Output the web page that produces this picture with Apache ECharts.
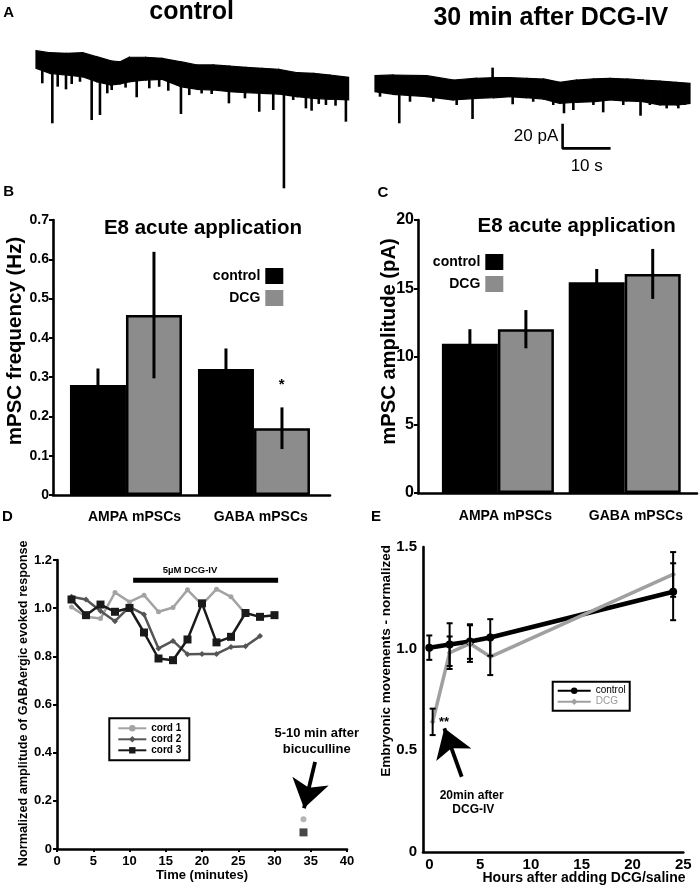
<!DOCTYPE html>
<html><head><meta charset="utf-8">
<script src="https://cdn.jsdelivr.net/npm/echarts@6/dist/echarts.min.js"></script>
<style>html,body{margin:0;padding:0;background:#fff}#c{width:700px;height:894px}</style>
</head><body><div id="c"></div>
<script>
// ---------- Panel A: current traces (time in s, current in pA) ----------
const controlTraceTime  = [0,3,6.5,10,13,16,18,20,23.5,27,31,34.5,38,41.5,45,48.5,52,56,59.5,63,67];
const controlTraceUpper = [5.1,3.4,2.9,3.4,0.0,-3.5,-4.3,-0.5,-0.5,-1.4,-4.3,-7.1,-7.1,-8.0,-9.1,-10.0,-10.8,-13.7,-14.3,-15.7,-17.7];
const controlTraceLower = [-10.0,-14.3,-15.7,-17.2,-21.5,-24.3,-23.4,-21.5,-20.0,-19.4,-25.7,-28.0,-28.6,-30.0,-30.9,-31.4,-32.0,-34.3,-35.7,-36.5,-37.1];
const controlEventTime  = [1.35,3.5,4.65,6.43,7.65,9.43,11.93,13.71,15.28,16.22,19.2,21.58,24.28,26.4,28.35,31.07,32.85,35.5,37.65,41.35,44.78,47.85,50.85,53.14,55.13,57.85,59.07,60.6,62.14,64.2,66.42];
const controlEventBase  = [-12,-13,-14,-15,-15,-16,-18,-20,-22,-22,-20,-19,-18,-18,-18,-24,-25,-26,-26,-28,-29,-30,-30,-31,-32,-33,-33,-34,-34,-35,-35];
const controlEventPeak  = [-22.8,-57.1,-25.7,-28.0,-23.4,-21.5,-54.3,-50.0,-31.4,-28.6,-26.5,-34.8,-27.1,-25.8,-29.2,-49.1,-32.9,-31.5,-32.0,-40.0,-35.7,-47.2,-45.7,-112.8,-37.1,-44.3,-46.3,-40.5,-41.4,-42.0,-55.7];

const dcgTraceTime  = [0,3.9,11.1,16.8,21.8,25.4,28.9,32.5,36.1,39.6,43.2,46.8,50.4,53.9,57.5,61.1,64.6,67.5];
const dcgTraceUpper = [-16.3,-15.7,-16.3,-20.0,-18.5,-18.0,-18.0,-18.5,-19.1,-22.0,-20.0,-19.1,-18.5,-19.1,-20.0,-20.9,-22.0,-22.8];
const dcgTraceLower = [-30.0,-32.3,-34.3,-37.1,-35.7,-35.2,-34.3,-35.2,-36.3,-40.0,-39.1,-38.6,-37.1,-38.0,-38.6,-41.4,-41.4,-40.0];
const dcgEventTime  = [1.07,5.2,7.5,12.5,17.5,20.9,25.2,29.5,33.9,38.2,40.5,42.5,46.8,48.9,53.2,56.9,58.9,62.5,65.0,66.4];
const dcgEventBase  = [-28,-30,-30,-32,-34,-33,-20,-32,-33,-34,-36,-36,-36,-36,-35,-36,-36,-38,-38,-38];
const dcgEventPeak  = [-34.3,-57.1,-38.6,-38.6,-41.4,-53.4,-9.4,-40.8,-38.6,-41.4,-48.5,-45.7,-41.4,-47.7,-41.4,-50.6,-41.4,-44.3,-44.3,-41.4];

const scaleBarTime = [40.2, 40.2, 50.2];   // 10 s
const scaleBarCurr = [-58.6, -78.6, -78.6]; // 20 pA

// ---------- Panels B & C: bars ----------
const barCategories = ['AMPA mPSCs', 'GABA mPSCs'];
const barPositions  = [1, 2];
const freqControl    = [0.28, 0.321];
const freqControlSem = [0.042, 0.052];
const freqDCG        = [0.458, 0.170];
const freqDCGSem     = [0.161, 0.053];
const ampControl     = [10.93, 15.44];
const ampControlSem  = [1.07, 0.97];
const ampDCG         = [12.0, 16.05];
const ampDCGSem      = [1.4, 1.83];

// ---------- Panel D ----------
const cord1Time = [2,4,6,8,10,12,14,16,18,20,22,24,26];
const cord1Amp  = [1.005,0.964,0.957,1.065,1.026,1.054,0.985,1.003,1.076,1.015,1.079,1.047,0.977];
const cord2Time = [2,4,6,8,10,12,14,16,18,20,22,24,26,28];
const cord2Amp  = [1.047,1.036,0.988,0.946,1.005,0.974,0.833,0.864,0.809,0.81,0.81,0.839,0.842,0.884];
const cord3Time = [2,4,6,8,10,12,14,16,18,20,22,24,26,28,30];
const cord3Amp  = [1.036,0.971,1.015,0.985,1.001,0.899,0.791,0.784,0.87,1.02,0.858,0.881,0.98,0.964,0.971];
const bicTime = 34;
const bicCord1 = 0.124;
const bicCord3 = 0.069;
const drugStart = 10.5, drugEnd = 30.5, drugLevel = 1.116;

// ---------- Panel E ----------
const eControlHours = [0, 2, 4, 6, 24];
const eControlMean  = [1.005, 1.02, 1.035, 1.055, 1.28];
const eControlSem   = [0.06, 0.105, 0.085, 0.09, 0.14];
const eDCGHours = [0.33, 2, 4, 6, 24];
const eDCGMean  = [0.64, 0.98, 1.025, 0.96, 1.365];
const eDCGSem   = [0.065, 0.08, 0.09, 0.09, 0.11];

const FONT = '"Liberation Sans", Arial, Helvetica, sans-serif';
const GRAY_BAR = '#8c8c8c';

function zip(a, b) { return a.map((v, i) => [v, b[i]]); }

function bandRender(params, api) {
  const i = params.dataIndexInside;
  if (i >= params.dataInsideLength - 1) return null;
  const p = [
    api.coord([api.value(0, i), api.value(1, i)]),
    api.coord([api.value(0, i + 1), api.value(1, i + 1)]),
    api.coord([api.value(0, i + 1), api.value(2, i + 1)]),
    api.coord([api.value(0, i), api.value(2, i)])
  ];
  return { type: 'polygon', shape: { points: p }, style: { fill: '#000', stroke: '#000', lineWidth: 1.2 } };
}
function spikeRender(params, api) {
  const a = api.coord([api.value(0), api.value(1)]);
  const b = api.coord([api.value(0), api.value(2)]);
  return { type: 'line', shape: { x1: a[0], y1: a[1], x2: b[0], y2: b[1] }, style: { stroke: '#000', lineWidth: 2.6 } };
}
function barErr(dx, w) {
  return function (params, api) {
    const a = api.coord([api.value(0), api.value(1)]);
    const b = api.coord([api.value(0), api.value(2)]);
    return { type: 'line', shape: { x1: a[0] + dx, y1: a[1], x2: b[0] + dx, y2: b[1] }, style: { stroke: '#000', lineWidth: w } };
  };
}
function capErr(params, api) {
  const a = api.coord([api.value(0), api.value(1)]);
  const b = api.coord([api.value(0), api.value(2)]);
  const c = 3;
  return { type: 'group', children: [
    { type: 'line', shape: { x1: a[0], y1: a[1], x2: b[0], y2: b[1] }, style: { stroke: '#000', lineWidth: 2 } },
    { type: 'line', shape: { x1: a[0] - c, y1: a[1], x2: a[0] + c, y2: a[1] }, style: { stroke: '#000', lineWidth: 2 } },
    { type: 'line', shape: { x1: b[0] - c, y1: b[1], x2: b[0] + c, y2: b[1] }, style: { stroke: '#000', lineWidth: 2 } }
  ]};
}

function txt(x, y, text, size, bold, extra) {
  return Object.assign({
    type: 'text', x: x, y: y, silent: true,
    style: { text: text, font: (bold ? 'bold ' : '') + size + 'px ' + FONT, fill: '#000', align: 'center', verticalAlign: 'middle' }
  }, extra || {});
}

const axisLineBlack = { show: true, onZero: false, lineStyle: { color: '#000', width: 2.6 } };
const valFmt1 = v => (Math.abs(v) < 1e-9 ? '0' : v.toFixed(1));

const chart = echarts.init(document.getElementById('c'), null, { renderer: 'canvas' });
const option = {
  animation: false,
  backgroundColor: '#fff',
  textStyle: { fontFamily: FONT },
  grid: [
    { left: 36, top: 45, width: 314, height: 151.7 },
    { left: 375, top: 45, width: 315, height: 151.7 },
    { left: 53, top: 220, width: 277, height: 275 },
    { left: 418, top: 220, width: 279, height: 273 },
    { left: 57, top: 560, width: 290, height: 289 },
    { left: 423, top: 547, width: 260.3, height: 305 }
  ],
  xAxis: [
    { gridIndex: 0, type: 'value', min: 0, max: 67.3, show: false },
    { gridIndex: 1, type: 'value', min: 0, max: 67.5, show: false },
    { gridIndex: 2, type: 'value', min: 0.43, max: 2.594, axisLine: axisLineBlack, axisTick: { show: false }, splitLine: { show: false },
      axisLabel: { customValues: [1.067, 2.053], formatter: v => barCategories[v < 1.5 ? 0 : 1], color: '#000', fontWeight: 'bold', fontSize: 14, margin: 15 } },
    { gridIndex: 3, type: 'value', min: 0.37, max: 2.57, axisLine: axisLineBlack, axisTick: { show: false }, splitLine: { show: false },
      axisLabel: { customValues: [1.059, 2.088], formatter: v => barCategories[v < 1.5 ? 0 : 1], color: '#000', fontWeight: 'bold', fontSize: 14, margin: 16 } },
    { gridIndex: 4, type: 'value', min: 0, max: 40, interval: 5, axisLine: axisLineBlack, splitLine: { show: false },
      axisTick: { show: true, length: 3, lineStyle: { color: '#000', width: 2 } },
      axisLabel: { color: '#000', fontWeight: 'bold', fontSize: 13, margin: 6 } },
    { gridIndex: 5, type: 'value', min: -0.62, max: 25, axisLine: axisLineBlack, splitLine: { show: false },
      axisTick: { show: false },
      axisLabel: { customValues: [0, 5, 10, 15, 20, 25], color: '#000', fontWeight: 'bold', fontSize: 15, margin: 5 } }
  ],
  yAxis: [
    { gridIndex: 0, type: 'value', min: -120, max: 10, show: false },
    { gridIndex: 1, type: 'value', min: -120, max: 10, show: false },
    { gridIndex: 2, type: 'value', min: 0, max: 0.7, interval: 0.1, axisLine: axisLineBlack, splitLine: { show: false },
      axisTick: { show: true, length: 4, lineStyle: { color: '#000', width: 2 } },
      axisLabel: { formatter: valFmt1, color: '#000', fontWeight: 'bold', fontSize: 14, margin: 4 } },
    { gridIndex: 3, type: 'value', min: 0, max: 20, interval: 5, axisLine: axisLineBlack, splitLine: { show: false },
      axisTick: { show: true, length: 4, lineStyle: { color: '#000', width: 2 } },
      axisLabel: { color: '#000', fontWeight: 'bold', fontSize: 16, margin: 4 } },
    { gridIndex: 4, type: 'value', min: 0, max: 1.2, interval: 0.2, axisLine: axisLineBlack, splitLine: { show: false },
      axisTick: { show: true, length: 4, lineStyle: { color: '#000', width: 2 } },
      axisLabel: { formatter: valFmt1, color: '#000', fontWeight: 'bold', fontSize: 13, margin: 5 } },
    { gridIndex: 5, type: 'value', min: 0, max: 1.5, interval: 0.5, axisLine: axisLineBlack, splitLine: { show: false },
      axisTick: { show: false },
      axisLabel: { formatter: valFmt1, color: '#000', fontWeight: 'bold', fontSize: 15, margin: 6 } }
  ],
  legend: [
    { data: ['control', 'DCG'], orient: 'vertical', align: 'right', right: 416.7, top: 268, itemWidth: 18, itemHeight: 16, itemGap: 6,
      icon: 'rect', selectedMode: false, padding: 0, itemStyle: { borderWidth: 0 },
      textStyle: { fontWeight: 'bold', fontSize: 14, color: '#000' } },
    { data: ['control', 'DCG'], orient: 'vertical', align: 'right', right: 196.7, top: 254, itemWidth: 18, itemHeight: 16, itemGap: 6,
      icon: 'rect', selectedMode: false, padding: 0, itemStyle: { borderWidth: 0 },
      textStyle: { fontWeight: 'bold', fontSize: 14, color: '#000' } },
    { data: ['cord 1', 'cord 2', 'cord 3'], orient: 'vertical', left: 109.3, top: 718.3, itemWidth: 28, itemHeight: 8, itemGap: 1,
      selectedMode: false, padding: [5, 8], borderColor: '#000', borderWidth: 2,
      textStyle: { fontWeight: 'bold', fontSize: 10, color: '#000', lineHeight: 10 } },
    { data: [{ name: 'E control', textStyle: { color: '#000' } }, { name: 'E DCG', textStyle: { color: '#999' } }],
      formatter: n => n.replace(/^E /, ''), orient: 'vertical', left: 552.7, top: 681.7, itemWidth: 33, itemHeight: 8, itemGap: 1,
      selectedMode: false, padding: [4, 4], borderColor: '#000', borderWidth: 2,
      textStyle: { fontSize: 10, lineHeight: 10 } }
  ],
  series: [
    // A
    { type: 'custom', xAxisIndex: 0, yAxisIndex: 0, renderItem: bandRender, silent: true,
      data: controlTraceTime.map((t, i) => [t, controlTraceUpper[i], controlTraceLower[i]]), encode: { x: 0, y: [1, 2] } },
    { type: 'custom', xAxisIndex: 0, yAxisIndex: 0, renderItem: spikeRender, silent: true,
      data: controlEventTime.map((t, i) => [t, controlEventBase[i], controlEventPeak[i]]), encode: { x: 0, y: [1, 2] } },
    { type: 'custom', xAxisIndex: 1, yAxisIndex: 1, renderItem: bandRender, silent: true,
      data: dcgTraceTime.map((t, i) => [t, dcgTraceUpper[i], dcgTraceLower[i]]), encode: { x: 0, y: [1, 2] } },
    { type: 'custom', xAxisIndex: 1, yAxisIndex: 1, renderItem: spikeRender, silent: true,
      data: dcgEventTime.map((t, i) => [t, dcgEventBase[i], dcgEventPeak[i]]), encode: { x: 0, y: [1, 2] } },
    { type: 'line', xAxisIndex: 1, yAxisIndex: 1, data: zip(scaleBarTime, scaleBarCurr), showSymbol: false, silent: true,
      lineStyle: { color: '#000', width: 2.6, cap: 'square' } },
    // B
    { name: 'control', type: 'bar', xAxisIndex: 2, yAxisIndex: 2, data: zip(barPositions, freqControl), barWidth: 56, barGap: '0%',
      itemStyle: { color: '#000', borderColor: '#000', borderWidth: 2.5 }, silent: true },
    { name: 'DCG', type: 'bar', xAxisIndex: 2, yAxisIndex: 2, data: zip(barPositions, freqDCG), barWidth: 56, barGap: '0%',
      itemStyle: { color: GRAY_BAR, borderColor: '#000', borderWidth: 2.5 }, silent: true },
    { type: 'custom', xAxisIndex: 2, yAxisIndex: 2, renderItem: barErr(-28, 3), z: 5, silent: true,
      data: barPositions.map((p, i) => [p, freqControl[i] - freqControlSem[i], freqControl[i] + freqControlSem[i]]) },
    { type: 'custom', xAxisIndex: 2, yAxisIndex: 2, renderItem: barErr(28, 3), z: 5, silent: true,
      data: barPositions.map((p, i) => [p, freqDCG[i] - freqDCGSem[i], freqDCG[i] + freqDCGSem[i]]) },
    // C
    { name: 'control', type: 'bar', xAxisIndex: 3, yAxisIndex: 3, data: zip(barPositions, ampControl), barWidth: 56, barGap: '0%',
      itemStyle: { color: '#000', borderColor: '#000', borderWidth: 2.5 }, silent: true },
    { name: 'DCG', type: 'bar', xAxisIndex: 3, yAxisIndex: 3, data: zip(barPositions, ampDCG), barWidth: 56, barGap: '0%',
      itemStyle: { color: GRAY_BAR, borderColor: '#000', borderWidth: 2.5 }, silent: true },
    { type: 'custom', xAxisIndex: 3, yAxisIndex: 3, renderItem: barErr(-28, 3), z: 5, silent: true,
      data: barPositions.map((p, i) => [p, ampControl[i] - ampControlSem[i], ampControl[i] + ampControlSem[i]]) },
    { type: 'custom', xAxisIndex: 3, yAxisIndex: 3, renderItem: barErr(28, 3), z: 5, silent: true,
      data: barPositions.map((p, i) => [p, ampDCG[i] - ampDCGSem[i], ampDCG[i] + ampDCGSem[i]]) },
    // D
    { name: 'cord 1', type: 'line', xAxisIndex: 4, yAxisIndex: 4, data: zip(cord1Time, cord1Amp), symbol: 'circle', symbolSize: 5,
      color: '#a3a3a3', lineStyle: { width: 2.5 }, silent: true },
    { name: 'cord 2', type: 'line', xAxisIndex: 4, yAxisIndex: 4, data: zip(cord2Time, cord2Amp), symbol: 'diamond', symbolSize: 6,
      color: '#555555', lineStyle: { width: 2.5 }, silent: true },
    { name: 'cord 3', type: 'line', xAxisIndex: 4, yAxisIndex: 4, data: zip(cord3Time, cord3Amp), symbol: 'rect', symbolSize: 8,
      color: '#1a1a1a', lineStyle: { width: 2.5 }, silent: true },
    { type: 'line', xAxisIndex: 4, yAxisIndex: 4, data: [[drugStart, drugLevel], [drugEnd, drugLevel]], showSymbol: false, silent: true,
      lineStyle: { color: '#000', width: 5 } },
    { type: 'scatter', xAxisIndex: 4, yAxisIndex: 4, data: [[bicTime, bicCord1]], symbol: 'circle', symbolSize: 6, itemStyle: { color: '#a3a3a3' }, silent: true },
    { type: 'scatter', xAxisIndex: 4, yAxisIndex: 4, data: [[bicTime, bicCord3]], symbol: 'rect', symbolSize: 8, itemStyle: { color: '#1a1a1a' }, silent: true,
      markLine: { silent: true, symbol: ['none', 'arrow'], symbolSize: 28, label: { show: false },
        lineStyle: { color: '#000', width: 3.8, type: 'solid' },
        data: [[{ coord: [35.6, 0.362] }, { coord: [34.07, 0.169] }]] } },
    // E
    { name: 'E control', type: 'line', xAxisIndex: 5, yAxisIndex: 5, data: zip(eControlHours, eControlMean), symbol: 'circle', symbolSize: 8,
      color: '#000', lineStyle: { width: 4.5 }, silent: true },
    { name: 'E DCG', type: 'line', xAxisIndex: 5, yAxisIndex: 5, data: zip(eDCGHours, eDCGMean), symbol: 'diamond', symbolSize: 6,
      color: '#a0a0a0', lineStyle: { width: 3.5 }, silent: true,
      markLine: { silent: true, symbol: ['none', 'arrow'], symbolSize: 28, label: { show: false },
        lineStyle: { color: '#000', width: 3.8, type: 'solid' },
        data: [[{ coord: [3.19, 0.37] }, { coord: [1.48, 0.608] }]] } },
    { type: 'custom', xAxisIndex: 5, yAxisIndex: 5, renderItem: capErr, z: 5, silent: true,
      data: eControlHours.map((h, i) => [h, eControlMean[i] - eControlSem[i], eControlMean[i] + eControlSem[i]]) },
    { type: 'custom', xAxisIndex: 5, yAxisIndex: 5, renderItem: capErr, z: 5, silent: true,
      data: eDCGHours.map((h, i) => [h, eDCGMean[i] - eDCGSem[i], eDCGMean[i] + eDCGSem[i]]) }
  ],
  graphic: [
    txt(8.7, 13.3, 'A', 15, true), txt(8.7, 191.7, 'B', 15, true), txt(383, 192.5, 'C', 15, true),
    txt(7.5, 516.7, 'D', 15, true), txt(376, 516.7, 'E', 15, true),
    txt(191.7, 12.5, 'control', 25, true),
    txt(550.8, 18.5, '30 min after DCG-IV', 25, true),
    txt(558.3, 136.7, '20 pA', 17, false, { style: { text: '20 pA', font: '17px ' + FONT, fill: '#000', align: 'right', verticalAlign: 'middle' } }),
    txt(586.7, 166, '10 s', 17, false),
    txt(203, 228.3, 'E8 acute application', 20.5, true),
    txt(576.7, 226.7, 'E8 acute application', 20.5, true),
    txt(15.7, 341, 'mPSC frequency (Hz)', 20.5, true, { rotation: Math.PI / 2 }),
    txt(389, 341.5, 'mPSC amplitude (pA)', 20.2, true, { rotation: Math.PI / 2 }),
    txt(281.7, 385, '*', 15, true),
    txt(190, 570, '5µM DCG-IV', 9.5, true),
    txt(316.7, 733.3, '5-10 min after', 13, true),
    txt(316.7, 749.3, 'bicuculline', 13, true),
    txt(202, 875, 'Time (minutes)', 13, true),
    txt(23, 703.3, 'Normalized amplitude of GABAergic evoked response', 12.7, true, { rotation: Math.PI / 2 }),
    txt(444, 722.5, '**', 13, true),
    txt(471.7, 796, '20min after', 12, true),
    txt(473.3, 810, 'DCG-IV', 12, true),
    txt(584, 878, 'Hours after adding DCG/saline', 14, true),
    txt(386.7, 660.8, 'Embryonic movements - normalized', 13.5, true, { rotation: Math.PI / 2 })
  ]
};
chart.setOption(option);
</script></body></html>
